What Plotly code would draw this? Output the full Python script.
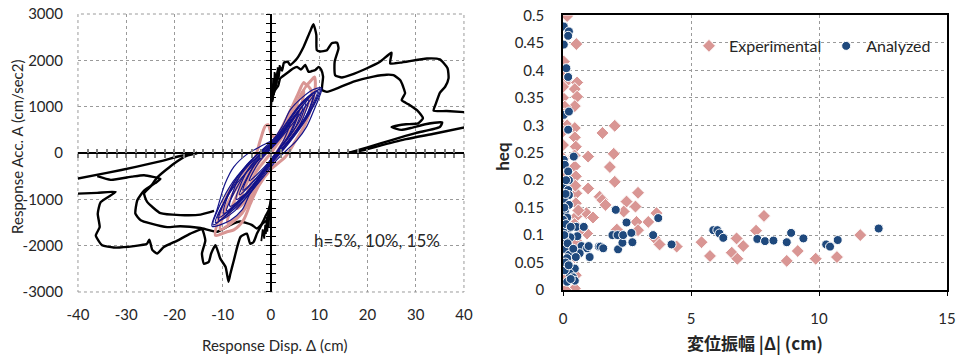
import plotly.graph_objects as go

# ---------------- Left panel: hysteresis loops ----------------
# Black response curves (cm, cm/sec2); each segment drawn separately
blk_ur_outer_x = [0, 0.2, 0.4, 0.5, 0.7, 0.9, 1.1, 1.3, 1.5, 1.9, 2.3, 2.7, 3.45, 4.0, 5.4, 6.8, 8.1, 8.8, 9.4, 9.5,
                  10.2, 11.6, 12.6, 13.7, 14.0, 13.2, 13.3, 14.7, 16.4, 19.9, 22.6, 25.0, 24.7, 26.8, 32.3, 35.0,
                  36.6, 36.8, 36.1, 35.0, 34.2, 33.7, 36.4, 40.5]
blk_ur_outer_y = [1000, 1350, 1150, 1500, 1300, 1700, 1450, 1750, 1600, 1860, 1780, 1950, 1970, 1900, 2040, 2300,
                  2620, 2780, 2550, 2220, 2190, 2220, 2370, 2380, 2260, 1970, 1680, 1630, 1680, 1830, 1970, 2165,
                  1935, 1950, 2040, 2020, 1830, 1610, 1430, 1300, 1070, 915, 905, 880]

blk_ur_mid_x = [0.3, 0.8, 1.5, 1.9, 3.0, 3.7, 4.5, 5.4, 6.2, 7.1, 7.8, 8.5, 9.2, 9.9, 10.4, 10.8, 10.6, 11.6, 14.3,
                17.1, 21.2, 24.0, 25.4, 26.8, 27.4, 27.8, 27.1, 28.5, 30.5, 31.5, 30.5, 28.0, 26.5, 25.0, 27.0, 29.0,
                32.0, 35.5, 35.0, 30.0, 25.0, 20.0, 17.0, 16.0]
blk_ur_mid_y = [1200, 1350, 1450, 1610, 1700, 1755, 1820, 1860, 1800, 1900, 1750, 1770, 1790, 1860, 1800, 1650, 1360,
                1320, 1420, 1540, 1650, 1690, 1680, 1570, 1430, 1290, 1140, 1050, 900, 750, 640, 620, 600, 560, 500,
                540, 620, 660, 560, 430, 280, 120, 30, 0]

blk_ur_ret_x = [40.5, 34.0, 28.0, 23.0, 19.0, 16.5, 15.8]
blk_ur_ret_y = [560, 420, 300, 170, 60, 10, 0]

# jagged parts near zero displacement
blk_ur_jag_x = [0, 0.15, 0.3, 0.45, 0.6, 0.75, 0.9, 1.05, 1.2, 1.4, 1.6, 1.8]
blk_ur_jag_y = [1000, 1450, 1100, 1600, 1250, 1750, 1350, 1700, 1500, 1850, 1650, 1900]

blk_ll_outer_x = [0, -0.5, -1.2, -2.2, -2.9, -3.6, -4.3, -5.0, -6.3, -7.0, -7.7, -8.4, -8.8, -9.4, -10.5, -11.5,
                  -12.4, -12.9, -13.9, -14.3, -13.6, -14.3, -16.7, -19.4, -22.2, -23.6, -24.6, -25.2, -25.7, -28.4,
                  -32.6, -35.0, -36.3, -35.5, -35.9, -35.3, -32.2, -36.0, -40.5]
blk_ll_outer_y = [-1020, -1240, -1380, -1600, -1740, -1920, -1960, -1740, -1810, -2030, -2320, -2600, -2780, -2460,
                  -2280, -1990, -2170, -2350, -2390, -2170, -1890, -1650, -1740, -1890, -2030, -2170, -2090, -1870,
                  -1960, -2010, -2040, -1990, -1780, -1600, -1310, -1060, -840, -860, -880]

blk_ll_mid_x = [0, -0.4, -0.8, -1.5, -2.9, -4.0, -6.4, -8.4, -11.2, -14.6, -18.8, -21.5, -25.0, -27.0, -28.1, -27.7,
                -26.3, -24.0, -22.9, -26.3, -28.8, -33.2, -36.0]
blk_ll_mid_y = [-1000, -1350, -1450, -1500, -1630, -1550, -1480, -1550, -1700, -1620, -1580, -1600, -1520, -1450,
                -1310, -1020, -810, -650, -560, -480, -510, -580, -500]

blk_ll_in_x = [-11.8, -14.6, -18.8, -22.9, -25.7, -26.3, -25.0, -23.5, -20.0, -17.5, -15.3]
blk_ll_in_y = [-1250, -1330, -1340, -1300, -1050, -870, -730, -520, -220, -60, 0]

blk_ll_ret_x = [-40.5, -34.0, -28.0, -23.0, -19.0, -16.5, -15.3]
blk_ll_ret_y = [-560, -430, -300, -180, -70, -15, 0]

blk_ll_jag_x = [0, -0.15, -0.3, -0.45, -0.6, -0.75, -0.9, -1.05, -1.2, -1.4, -1.7, -2.0]
blk_ll_jag_y = [-1000, -1450, -1150, -1600, -1300, -1700, -1400, -1750, -1550, -1850, -1650, -1900]

# Experimental loops (pink)
pink_loops_x = [
    [-11.5, -10.5, -8.5, -6.0, -3.5, -2.2, -1.2, -0.6, 0.2, 1.0, 3.0, 5.5, 6.8, 7.3, 8.2, 9.0, 9.2, 8.5, 7.0, 5.0,
     3.0, 0.0, -2.5, -4.3, -5.7, -7.7, -9.1, -11.5],
    [-10.5, -9.0, -6.5, -4.0, -1.0, 2.0, 5.0, 7.5, 8.5, 6.5, 4.0, 1.0, -2.5, -6.0, -10.5],
    [-9.0, -7.0, -4.5, -1.5, 1.5, 4.5, 6.8, 6.0, 3.5, 0.5, -3.0, -6.5, -9.0],
    [-7.0, -5.0, -2.5, 0.5, 3.5, 5.5, 4.5, 2.0, -1.0, -4.5, -7.0],
    [-5.0, -3.0, 0.0, 3.0, 4.2, 2.5, -0.5, -3.5, -5.0],
]
pink_loops_y = [
    [-1780, -1300, -800, -450, -150, 280, 580, 610, 380, 350, 700, 1250, 1520, 1470, 1550, 1640, 1450, 1050, 600,
     250, -80, -350, -700, -1100, -1450, -1660, -1700, -1780],
    [-1650, -1100, -650, -300, 50, 450, 1000, 1450, 1300, 800, 300, -100, -600, -1300, -1650],
    [-1500, -900, -450, 0, 350, 900, 1350, 900, 350, -150, -750, -1350, -1500],
    [-1200, -650, -200, 200, 600, 1050, 600, 150, -350, -950, -1200],
    [-900, -400, 0, 450, 650, 200, -300, -750, -900],
]

# Analyzed loops (navy)
navy_loops_x = [
    [-12.2, -11.2, -9.5, -7.7, -5.0, -2.2, 0.5, 2.3, 4.0, 6.5, 8.8, 10.5, 9.8, 9.2, 7.4, 5.4, 3.3, 1.2, -1.5, -4.3,
     -6.0, -8.4, -12.2],
    [-11.5, -8.5, -4.0, 1.0, 5.0, 10.0, 8.0, 4.0, 0.0, -5.0, -11.5],
    [-10.8, -9.0, -6.5, -3.0, 0.5, 3.5, 6.5, 9.6, 8.2, 5.6, 2.2, -1.0, -4.0, -7.5, -10.8],
    [-9.8, -8.0, -5.0, -1.5, 2.0, 5.0, 8.7, 7.2, 4.2, 0.8, -2.5, -6.0, -9.8],
    [-8.5, -6.5, -3.5, 0.0, 3.0, 7.8, 6.2, 3.2, 0.0, -3.5, -8.5],
    [-7.2, -5.0, -2.0, 1.5, 6.6, 4.8, 1.8, -1.5, -4.5, -7.2],
    [-5.8, -3.8, -1.0, 2.5, 5.5, 3.5, 0.5, -2.5, -5.8],
    [-4.5, -2.5, 0.5, 4.0, 2.5, -0.5, -4.5],
    [-12.0, -10.0, -7.0, -3.0, 1.0, 4.5, 7.5, 10.3, 9.0, 6.5, 3.5, 0.5, -3.5, -7.0, -12.0],
    [-11.0, -8.0, -4.5, -0.5, 3.0, 6.0, 9.0, 7.8, 5.0, 1.5, -2.0, -5.5, -11.0],
    [-9.2, -6.0, -2.5, 1.0, 4.5, 7.2, 6.0, 2.8, -0.5, -4.0, -9.2],
    [-6.5, -4.0, -1.5, 2.0, 5.8, 4.2, 1.0, -2.0, -6.5],
]
navy_loops_y = [
    [-1580, -1230, -660, -300, -30, 140, 300, 570, 930, 1200, 1370, 1400, 1150, 1000, 570, 280, 65, -150, -510, -870,
     -1230, -1450, -1580],
    [-1500, -850, -300, 200, 700, 1380, 850, 250, -250, -950, -1500],
    [-1450, -900, -450, -50, 250, 700, 1100, 1330, 950, 500, 60, -350, -800, -1250, -1450],
    [-1300, -700, -250, 100, 450, 900, 1250, 780, 300, -100, -550, -1000, -1300],
    [-1150, -500, -100, 200, 550, 1150, 650, 200, -200, -700, -1150],
    [-1000, -400, 0, 350, 1000, 500, 80, -380, -800, -1000],
    [-800, -320, 60, 450, 850, 350, -80, -480, -800],
    [-600, -200, 150, 650, 250, -200, -600],
    [-1550, -1000, -500, -100, 250, 800, 1200, 1380, 1050, 650, 250, -150, -650, -1100, -1550],
    [-1400, -750, -250, 100, 500, 950, 1300, 900, 450, 0, -450, -950, -1400],
    [-1250, -550, -100, 220, 700, 1100, 700, 230, -250, -750, -1250],
    [-900, -350, -20, 350, 900, 450, 0, -420, -900],
]

disp_ticks = [-40, -30, -20, -10, 0, 10, 20, 30, 40]
acc_ticks = [-3000, -2000, -1000, 0, 1000, 2000, 3000]

# ---------------- Right panel: equivalent damping ----------------
exp_disp = [0.16, 0.52, 0.03, 0.00, 0.10, 0.55, 0.46, 0.55, 0.00, 0.46, 0.07, 0.00, 0.16, 0.46, 0.00, 0.46, 0.00,
            0.50, 0.98, 0.46, 0.50, 0.00, 0.98, 0.52, 1.43, 1.53, 1.66, 0.50, 0.91, 1.17, 0.52, 0.94, 0.03, 0.00,
            0.00, 0.46, 0.50, 2.02, 1.54, 1.98, 1.83, 2.02, 2.93, 2.48, 2.83, 2.37, 3.65, 3.33, 2.87, 2.93, 3.59,
            3.77, 4.44, 5.41, 5.74, 6.59, 6.78, 6.81, 7.04, 7.54, 7.85, 8.74, 9.17, 9.87, 10.70, 11.61,
            0.05, 0.00, 0.05, 0.00, 0.03, 0.00, 0.05, 0.00, 0.45, 0.50, 0.45, 0.48, 0.45, 0.60, 0.70, 0.10, 0.05,
            0.00, 2.10]
exp_heq = [0.499, 0.448, 0.416, 0.392, 0.378, 0.378, 0.366, 0.352, 0.350, 0.335, 0.334, 0.304, 0.300, 0.295, 0.289,
           0.278, 0.264, 0.261, 0.243, 0.225, 0.207, 0.204, 0.185, 0.176, 0.170, 0.164, 0.155, 0.158, 0.140, 0.132,
           0.134, 0.103, 0.061, 0.039, 0.012, 0.003, 0.027, 0.299, 0.286, 0.248, 0.224, 0.197, 0.177, 0.161, 0.152,
           0.143, 0.140, 0.124, 0.124, 0.109, 0.094, 0.083, 0.079, 0.087, 0.062, 0.068, 0.094, 0.057, 0.080, 0.108,
           0.135, 0.053, 0.071, 0.057, 0.060, 0.100,
           0.320, 0.240, 0.180, 0.145, 0.118, 0.090, 0.075, 0.025, 0.120, 0.090, 0.060, 0.190, 0.245, 0.145, 0.110,
           0.000, 0.400, 0.370, 0.110]

ana_disp = [0.03, 0.23, 0.20, 0.03, 0.13, 0.20, 0.03, 0.23, 0.20, 0.42, 0.03, 0.07, 0.20, 0.23, 0.03, 0.20, 0.23,
            0.03, 0.23, 0.07, 0.16, 0.00, 0.52, 0.81, 0.23, 0.00, 0.56, 0.29, 0.07, 0.72, 0.30, 0.10, 0.94, 1.00,
            1.04, 0.23, 0.65, 0.00, 0.16, 0.46, 0.26, 0.39, 0.46, 0.16, 0.07, 1.40, 1.46, 1.57, 2.06, 1.93, 2.13,
            2.15, 2.32, 2.35, 2.48, 2.67, 2.71, 3.52, 3.72, 4.24, 5.87, 6.03, 6.11, 6.26, 7.59, 7.89, 8.22, 8.74,
            8.91, 9.39, 10.28, 10.43, 10.73, 12.33,
            0.12, 0.05, 0.18, 0.10, 0.22, 0.30, 0.05, 0.10, 0.12, 0.30, 0.40, 0.50]
ana_heq = [0.480, 0.471, 0.463, 0.447, 0.404, 0.388, 0.319, 0.325, 0.292, 0.243, 0.237, 0.228, 0.216, 0.200, 0.188,
           0.182, 0.173, 0.164, 0.155, 0.143, 0.132, 0.128, 0.115, 0.115, 0.112, 0.109, 0.098, 0.096, 0.091, 0.080,
           0.074, 0.074, 0.076, 0.080, 0.060, 0.064, 0.067, 0.055, 0.058, 0.039, 0.030, 0.023, 0.017, 0.015, 0.036,
           0.079, 0.079, 0.076, 0.146, 0.100, 0.100, 0.074, 0.086, 0.100, 0.123, 0.104, 0.087, 0.100, 0.131, 0.083,
           0.109, 0.109, 0.103, 0.095, 0.093, 0.089, 0.090, 0.087, 0.104, 0.094, 0.083, 0.079, 0.091, 0.112,
           0.120, 0.100, 0.085, 0.050, 0.045, 0.020, 0.150, 0.175, 0.200, 0.115, 0.075, 0.060]

amp_ticks = [0, 5, 10, 15]
heq_ticks = [0, 0.05, 0.1, 0.15, 0.2, 0.25, 0.3, 0.35, 0.4, 0.45, 0.5]

FONT = "Lato"
TXT = "#262626"
GRID = "#9a9a9a"
BLACK_W = 2.4

fig = go.Figure()


def add_curve(xs, ys, color, width, axes=("x", "y"), shape="spline", smoothing=0.6):
    fig.add_trace(go.Scatter(
        x=xs, y=ys, mode="lines", xaxis=axes[0], yaxis=axes[1],
        line=dict(color=color, width=width, shape=shape, smoothing=smoothing),
        showlegend=False, hoverinfo="skip"))


for xs, ys in [(blk_ur_outer_x, blk_ur_outer_y), (blk_ur_mid_x, blk_ur_mid_y), (blk_ur_ret_x, blk_ur_ret_y),
               (blk_ll_outer_x, blk_ll_outer_y), (blk_ll_mid_x, blk_ll_mid_y), (blk_ll_in_x, blk_ll_in_y),
               (blk_ll_ret_x, blk_ll_ret_y)]:
    add_curve(xs, ys, "black", BLACK_W, smoothing=0.5)
for xs, ys in [(blk_ur_jag_x, blk_ur_jag_y), (blk_ll_jag_x, blk_ll_jag_y)]:
    add_curve(xs, ys, "black", 1.8, shape="linear")

for xs, ys in zip(pink_loops_x, pink_loops_y):
    add_curve(xs, ys, "#D99694", 3.0, smoothing=0.8)

for xs, ys in zip(navy_loops_x, navy_loops_y):
    add_curve(xs, ys, "#14148a", 1.2, smoothing=0.9)

# empty traces so the zero-crossing axes get their own subplots
fig.add_trace(go.Scatter(x=[], y=[], xaxis="x3", yaxis="y", showlegend=False, hoverinfo="skip"))
fig.add_trace(go.Scatter(x=[], y=[], xaxis="x4", yaxis="y", showlegend=False, hoverinfo="skip"))
fig.add_trace(go.Scatter(x=[], y=[], xaxis="x", yaxis="y3", showlegend=False, hoverinfo="skip"))
fig.add_trace(go.Scatter(x=[], y=[], xaxis="x", yaxis="y4", showlegend=False, hoverinfo="skip"))

# right panel scatter
fig.add_trace(go.Scatter(
    x=exp_disp, y=exp_heq, mode="markers", name="Experimental", xaxis="x2", yaxis="y2",
    marker=dict(symbol="diamond", size=10, color="#D99694", line=dict(color="white", width=1)),
    hoverinfo="skip"))
fig.add_trace(go.Scatter(
    x=ana_disp, y=ana_heq, mode="markers", name="Analyzed", xaxis="x2", yaxis="y2",
    marker=dict(symbol="circle", size=9, color="#1F497D", line=dict(color="white", width=1)),
    hoverinfo="skip"))

L_DOM_X = [0.0813, 0.4838]
L_DOM_Y = [0.1934, 0.9613]
R_DOM_X = [0.5871, 0.9875]
R_DOM_Y = [0.1989, 0.9572]
zero_y = (L_DOM_Y[0] + L_DOM_Y[1]) / 2
zero_x = (L_DOM_X[0] + L_DOM_X[1]) / 2

tickfont = dict(family=FONT, size=15, color=TXT)

fig.update_layout(
    width=959, height=362,
    margin=dict(l=0, r=0, t=0, b=0, autoexpand=False),
    paper_bgcolor="white", plot_bgcolor="white",
    font=dict(family=FONT, color=TXT),
    xaxis=dict(domain=L_DOM_X, range=[-40, 40], anchor="y", automargin=False,
               tickvals=disp_ticks, ticktext=[str(v) for v in disp_ticks],
               showgrid=True, gridcolor=GRID, griddash="dot", gridwidth=1,
               zeroline=False, showline=False, ticks="", tickfont=tickfont, ticklabelstandoff=12),
    yaxis=dict(domain=L_DOM_Y, range=[-3000, 3000], anchor="x", automargin=False,
               tickvals=acc_ticks, ticktext=[str(v) for v in acc_ticks],
               showgrid=True, gridcolor=GRID, griddash="dot", gridwidth=1,
               zeroline=False, showline=False, ticks="", tickfont=tickfont, ticklabelstandoff=14),
    xaxis3=dict(overlaying="x", anchor="free", position=zero_y, range=[-40, 40], side="bottom",
                tick0=0, dtick=2, ticks="outside", ticklen=4, tickcolor="#7f7f7f", tickwidth=1.5,
                showline=True, linecolor="black", linewidth=1.5, automargin=False,
                showticklabels=False, showgrid=False, zeroline=False),
    xaxis4=dict(overlaying="x", anchor="free", position=zero_y, range=[-40, 40], side="bottom",
                tick0=0, dtick=2, ticks="inside", ticklen=4, tickcolor="#7f7f7f", tickwidth=1.5,
                showline=False, showticklabels=False, showgrid=False, zeroline=False, automargin=False),
    yaxis3=dict(overlaying="y", anchor="free", position=zero_x, range=[-3000, 3000], side="left",
                tick0=0, dtick=200, ticks="outside", ticklen=4, tickcolor="black", tickwidth=1,
                showline=True, linecolor="black", linewidth=1.5, automargin=False,
                showticklabels=False, showgrid=False, zeroline=False),
    yaxis4=dict(overlaying="y", anchor="free", position=zero_x, range=[-3000, 3000], side="left",
                tick0=0, dtick=200, ticks="inside", ticklen=4, tickcolor="black", tickwidth=1,
                showline=False, showticklabels=False, showgrid=False, zeroline=False, automargin=False),
    xaxis2=dict(domain=R_DOM_X, range=[0, 15], anchor="y2", automargin=False,
                tickvals=amp_ticks, ticktext=[str(v) for v in amp_ticks],
                showgrid=True, gridcolor=GRID, griddash="dot", gridwidth=1,
                zeroline=False, showline=True, linecolor="black", linewidth=1.5, mirror=True,
                ticks="outside", ticklen=4, tickcolor="black", tickfont=tickfont, ticklabelstandoff=10),
    yaxis2=dict(domain=R_DOM_Y, range=[0, 0.5], anchor="x2", automargin=False,
                tickvals=heq_ticks, ticktext=[f"{v:g}" for v in heq_ticks],
                showgrid=True, gridcolor=GRID, griddash="dot", gridwidth=1,
                zeroline=False, showline=True, linecolor="black", linewidth=1.5, mirror=True,
                ticks="", tickfont=tickfont, ticklabelstandoff=14),
    legend=dict(orientation="h", x=0.976, xanchor="right", y=0.873, yanchor="middle",
                bgcolor="rgba(0,0,0,0)", font=dict(family=FONT, size=16, color=TXT),
                itemwidth=30, tracegroupgap=0),
    showlegend=True,
)

# dotted frame around the left plot area
fig.add_shape(type="rect", xref="x domain", yref="y domain", x0=0, x1=1, y0=0, y1=1,
              line=dict(color=GRID, width=1, dash="dot"), layer="below")

ann = dict(showarrow=False, xanchor="center", yanchor="middle")
fig.add_annotation(text="Response Acc. A (cm/sec2)", xref="paper", yref="paper", x=0.0177, y=0.594,
                   textangle=-90, font=dict(family=FONT, size=15, color=TXT), **ann)
fig.add_annotation(text="Response Disp. Δ (cm)", xref="paper", yref="paper", x=0.2868, y=0.047,
                   font=dict(family=FONT, size=15, color=TXT), **ann)
fig.add_annotation(text="h=5%, 10%, 15%", xref="x", yref="y", x=21.9, y=-1878,
                   font=dict(family=FONT, size=17, color=TXT), **ann)
fig.add_annotation(text="<b>heq</b>", xref="paper", yref="paper", x=0.5245, y=0.567,
                   textangle=-90, font=dict(family=FONT, size=17, color=TXT), **ann)
fig.add_annotation(text="<b>変位振幅 |Δ| (cm)</b>", xref="paper", yref="paper", x=0.787, y=0.0525,
                   font=dict(family="Noto Sans CJK JP", size=17, color=TXT), **ann)

fig.write_html("out.html")
